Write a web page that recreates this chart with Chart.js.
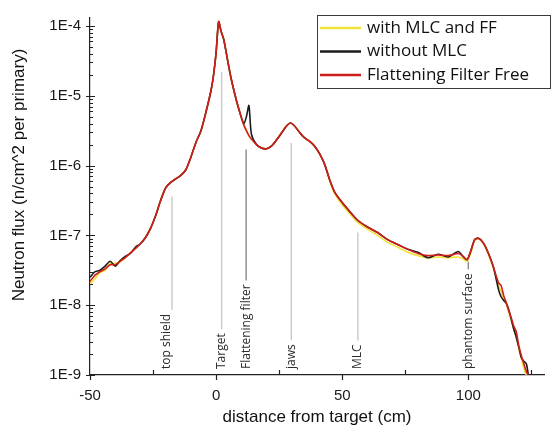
<!DOCTYPE html>
<html>
<head>
<meta charset="utf-8">
<script src="https://cdn.jsdelivr.net/npm/chart.js@4/dist/chart.umd.min.js"></script>
<style>
  html, body { margin: 0; padding: 0; background: #fff; }
  #wrap { width: 552px; height: 434px; position: relative; }
</style>
</head>
<body>
<div id="wrap"><canvas id="flux-chart"></canvas></div>
<script>
// distance from target (cm)
const distance = [
  -50, -48, -46, -44, -42, -40, -38, -36, -34, -32, -30, -28, -26, -24, -22, -20, -18, -16, -14, -12,
  -10, -8, -6, -4, -2, -1, 0, 1, 2, 3, 4, 5, 6, 8, 10, 11, 12, 13, 14, 16,
  18, 20, 22, 24, 26, 28, 29.5, 31, 33, 35, 37, 39, 41, 43, 45, 47, 50, 53, 56, 60,
  64, 68, 72, 76, 80, 84, 88, 92, 96, 98, 99.5, 101, 102.5, 104, 106, 108, 110, 112, 113, 114,
  115, 116, 117, 118, 119, 120, 121, 122, 123, 124
];

// neutron flux (n/cm^2 per primary)
const withMlcFF = [
  2.00e-8, 2.40e-8, 2.95e-8, 3.16e-8, 3.98e-8, 3.98e-8, 4.17e-8, 4.79e-8, 5.62e-8, 6.46e-8,
  7.59e-8, 9.33e-8, 1.26e-7, 1.91e-7, 3.16e-7, 4.79e-7, 5.75e-7, 6.46e-7, 7.24e-7, 8.71e-7,
  1.32e-6, 2.14e-6, 3.16e-6, 5.89e-6, 1.20e-5, 2.00e-5, 4.17e-5, 1.15e-4, 8.32e-5, 6.46e-5,
  4.17e-5, 2.63e-5, 1.74e-5, 8.71e-6, 4.90e-6, 3.80e-6, 3.16e-6, 2.69e-6, 2.40e-6, 2.00e-6,
  1.78e-6, 1.74e-6, 1.91e-6, 2.34e-6, 2.95e-6, 3.72e-6, 4.07e-6, 3.72e-6, 3.02e-6, 2.51e-6,
  2.24e-6, 1.91e-6, 1.48e-6, 1.05e-6, 6.03e-7, 3.98e-7, 2.75e-7, 2.04e-7, 1.55e-7, 1.23e-7,
  1.00e-7, 7.94e-8, 6.76e-8, 5.75e-8, 5.13e-8, 4.79e-8, 4.90e-8, 4.79e-8, 4.90e-8, 4.57e-8,
  4.27e-8, 5.62e-8, 8.32e-8, 8.91e-8, 7.59e-8, 5.25e-8, 3.31e-8, 1.91e-8, 1.58e-8, 1.26e-8,
  1.05e-8, 7.94e-9, 6.03e-9, 4.57e-9, 3.55e-9, 2.40e-9, 1.74e-9, 1.26e-9, 1.00e-9, 8.90e-10
];

const withoutMlc = [
  2.51e-8, 3.02e-8, 3.16e-8, 3.63e-8, 4.27e-8, 3.63e-8, 4.37e-8, 5.01e-8, 5.50e-8, 6.76e-8,
  7.59e-8, 9.33e-8, 1.26e-7, 1.91e-7, 3.16e-7, 4.79e-7, 5.75e-7, 6.46e-7, 7.24e-7, 8.71e-7,
  1.32e-6, 2.14e-6, 3.16e-6, 5.89e-6, 1.20e-5, 2.00e-5, 4.17e-5, 1.15e-4, 8.32e-5, 6.46e-5,
  4.17e-5, 2.63e-5, 1.74e-5, 8.71e-6, 4.90e-6, 3.98e-6, 5.01e-6, 7.24e-6, 2.82e-6, 2.00e-6,
  1.78e-6, 1.74e-6, 1.91e-6, 2.34e-6, 2.95e-6, 3.72e-6, 4.07e-6, 3.72e-6, 3.02e-6, 2.51e-6,
  2.24e-6, 1.91e-6, 1.48e-6, 1.05e-6, 6.31e-7, 4.17e-7, 2.95e-7, 2.19e-7, 1.66e-7, 1.32e-7,
  1.10e-7, 8.71e-8, 7.41e-8, 6.31e-8, 5.75e-8, 4.79e-8, 5.37e-8, 4.90e-8, 5.89e-8, 4.90e-8,
  4.47e-8, 6.03e-8, 8.71e-8, 9.12e-8, 7.76e-8, 5.50e-8, 3.47e-8, 1.66e-8, 1.32e-8, 1.17e-8,
  1.07e-8, 8.71e-9, 6.31e-9, 4.57e-9, 3.47e-9, 2.51e-9, 1.78e-9, 1.58e-9, 1.45e-9, 8.90e-10
];

const flatteningFilterFree = [
  2.19e-8, 2.69e-8, 3.02e-8, 3.31e-8, 3.80e-8, 3.80e-8, 4.27e-8, 4.79e-8, 5.62e-8, 6.46e-8,
  7.59e-8, 9.33e-8, 1.26e-7, 1.91e-7, 3.16e-7, 4.79e-7, 5.75e-7, 6.46e-7, 7.24e-7, 8.71e-7,
  1.32e-6, 2.14e-6, 3.16e-6, 5.89e-6, 1.20e-5, 2.00e-5, 4.17e-5, 1.15e-4, 8.32e-5, 6.46e-5,
  4.17e-5, 2.63e-5, 1.74e-5, 8.71e-6, 4.90e-6, 3.80e-6, 3.16e-6, 2.69e-6, 2.40e-6, 2.00e-6,
  1.78e-6, 1.74e-6, 1.91e-6, 2.34e-6, 2.95e-6, 3.72e-6, 4.07e-6, 3.72e-6, 3.02e-6, 2.51e-6,
  2.24e-6, 1.91e-6, 1.48e-6, 1.05e-6, 6.31e-7, 4.17e-7, 2.95e-7, 2.19e-7, 1.66e-7, 1.32e-7,
  1.10e-7, 8.71e-8, 7.41e-8, 6.31e-8, 5.50e-8, 5.13e-8, 5.25e-8, 5.13e-8, 5.50e-8, 5.01e-8,
  4.47e-8, 6.03e-8, 8.71e-8, 9.12e-8, 7.76e-8, 5.50e-8, 3.47e-8, 2.09e-8, 1.91e-8, 1.38e-8,
  1.10e-8, 8.32e-9, 6.61e-9, 5.01e-9, 4.17e-9, 2.63e-9, 1.91e-9, 1.45e-9, 1.12e-9, 9.50e-10
];

const seriesNames = ['with MLC and FF', 'without MLC', 'Flattening Filter Free'];

// axis ticks
const xTickValues = [-50, -25, 0, 25, 50, 75, 100, 125];
const xTickLabels = ['-50', '', '0', '', '50', '', '100', ''];
const yDecades = [1e-9, 1e-8, 1e-7, 1e-6, 1e-5, 1e-4];
const yDecadeLabels = ['1E-9', '1E-8', '1E-7', '1E-6', '1E-5', '1E-4'];

// component markers along the beam line
const markerNames = ['top shield', 'Target', 'Flattening filter', 'jaws', 'MLC', 'phantom surface'];
const markerX = [-17.5, 2.2, 11.9, 29.8, 56.2, 100];
const markerTop = [3.6e-7, 2.2e-5, 1.7e-6, 2.1e-6, 1.1e-7, 4.2e-8];

const colors = ['#f2e23c', '#1b1b1b', '#d01e1e'];

function pts(values) {
  return distance.map((x, i) => ({ x, y: values[i] }));
}

// tick marks: long ones for labelled values, short inward ones otherwise
const tickMarks = {
  id: 'tickMarks',
  afterDraw(chart) {
    const { ctx, scales: { x, y }, chartArea: a } = chart;
    ctx.save();
    ctx.strokeStyle = '#222';
    ctx.lineWidth = 1.2;
    ctx.beginPath();
    y.ticks.forEach(t => {
      const py = Math.round(y.getPixelForValue(t.value)) + 0.5;
      const major = yDecades.some(d => Math.abs(d - t.value) / d < 1e-6);
      ctx.moveTo(a.left - (major ? 4 : 0), py);
      ctx.lineTo(a.left + (major ? 5 : 3), py);
    });
    x.ticks.forEach(t => {
      const px = Math.round(x.getPixelForValue(t.value)) + 0.5;
      const major = t.value % 50 === 0;
      ctx.moveTo(px, a.bottom + (major ? 5 : 0));
      ctx.lineTo(px, a.bottom - (major ? 0 : 5));
    });
    ctx.stroke();

    // y axis title (sits a little above the middle in the original)
    ctx.fillStyle = '#111';
    ctx.font = "17px 'Liberation Sans', Arial, sans-serif";
    ctx.textAlign = 'center';
    ctx.textBaseline = 'middle';
    ctx.translate(19, 175);
    ctx.rotate(-Math.PI / 2);
    ctx.fillText('Neutron flux (n/cm^2 per primary)', 0, 0);
    ctx.restore();
  }
};

// vertical marker lines with rotated names
const markers = {
  id: 'markers',
  beforeDatasetsDraw(chart) {
    const { ctx, scales: { x, y } } = chart;
    const darker = ['Flattening filter', 'phantom surface'];
    ctx.save();
    ctx.font = "12px 'Open Sans', sans-serif";
    markerNames.forEach((name, i) => {
      const px = x.getPixelForValue(markerX[i]);
      const top = y.getPixelForValue(markerTop[i]);
      const w = ctx.measureText(name).width;
      const textBottom = 369;
      const shift = name === 'top shield' ? -5 : 0;
      ctx.strokeStyle = darker.includes(name) ? '#8a8a8a' : '#c9c9c9';
      ctx.lineWidth = 1.4;
      ctx.beginPath();
      ctx.moveTo(px, top);
      ctx.lineTo(px, textBottom - w - 4);
      ctx.stroke();
      ctx.save();
      ctx.translate(px + shift, textBottom);
      ctx.rotate(-Math.PI / 2);
      ctx.fillStyle = '#2a2a2a';
      ctx.textAlign = 'left';
      ctx.textBaseline = 'middle';
      ctx.fillText(name, 0, 0);
      ctx.restore();
    });
    ctx.restore();
  }
};

// boxed legend in the top right corner
const boxLegend = {
  id: 'boxLegend',
  afterDraw(chart) {
    const ctx = chart.ctx;
    ctx.save();
    ctx.fillStyle = '#fff';
    ctx.fillRect(317.5, 15.5, 233, 73);
    ctx.strokeStyle = '#3a3a3a';
    ctx.lineWidth = 1;
    ctx.strokeRect(317.5, 15.5, 233, 73);
    ctx.font = "17px 'Open Sans', sans-serif";
    ctx.textBaseline = 'middle';
    seriesNames.forEach((name, i) => {
      const cy = 28 + i * 23.5;
      ctx.strokeStyle = colors[i];
      ctx.lineWidth = 2.5;
      ctx.beginPath();
      ctx.moveTo(320, cy);
      ctx.lineTo(361, cy);
      ctx.stroke();
      ctx.fillStyle = '#111';
      ctx.fillText(name, 367, cy);
    });
    ctx.restore();
  }
};

Chart.defaults.font.family = "'Liberation Sans', Arial, sans-serif";
Chart.defaults.color = '#1a1a1a';

new Chart(document.getElementById('flux-chart'), {
  type: 'line',
  data: {
    datasets: [
      { label: seriesNames[0], data: pts(withMlcFF), borderColor: colors[0], order: 2 },
      { label: seriesNames[1], data: pts(withoutMlc), borderColor: colors[1], order: 1 },
      { label: seriesNames[2], data: pts(flatteningFilterFree), borderColor: colors[2], order: 0 }
    ]
  },
  options: {
    responsive: true,
    maintainAspectRatio: false,
    animation: false,
    layout: { padding: { top: 11, right: 8, left: 0, bottom: 0 } },
    elements: {
      line: { borderWidth: 1.6, tension: 0.25, fill: false },
      point: { radius: 0 }
    },
    plugins: {
      legend: { display: false },
      tooltip: { enabled: false }
    },
    scales: {
      x: {
        type: 'linear',
        min: -50,
        max: 130,
        afterBuildTicks: s => { s.ticks = xTickValues.map(v => ({ value: v })); },
        afterFit: s => { s.height = 59; },
        ticks: {
          padding: 12,
          font: { size: 15 },
          color: '#1a1a1a',
          callback: v => xTickLabels[xTickValues.indexOf(v)]
        },
        grid: { drawOnChartArea: false, drawTicks: false },
        border: { display: true, color: '#222', width: 1.2 },
        title: {
          display: true,
          text: 'distance from target (cm)',
          font: { size: 17 },
          color: '#111',
          padding: { top: 0, bottom: 6 }
        }
      },
      y: {
        type: 'logarithmic',
        min: 1e-9,
        max: 1.3e-4,
        afterBuildTicks: s => {
          const t = [];
          yDecades.forEach(d => {
            for (let k = 1; k <= 9; k++) {
              const v = d * k;
              if (v <= 1.3e-4) t.push({ value: v });
            }
          });
          s.ticks = t;
        },
        afterFit: s => { s.width = 90; },
        ticks: {
          padding: 9,
          autoSkip: false,
          font: { size: 15 },
          color: '#1a1a1a',
          callback: v => {
            const i = yDecades.findIndex(d => Math.abs(d - v) / d < 1e-6);
            return i >= 0 ? yDecadeLabels[i] : '';
          }
        },
        grid: { drawOnChartArea: false, drawTicks: false },
        border: { display: true, color: '#222', width: 1.2 }
      }
    }
  },
  plugins: [markers, tickMarks, boxLegend]
});
</script>
</body>
</html>
